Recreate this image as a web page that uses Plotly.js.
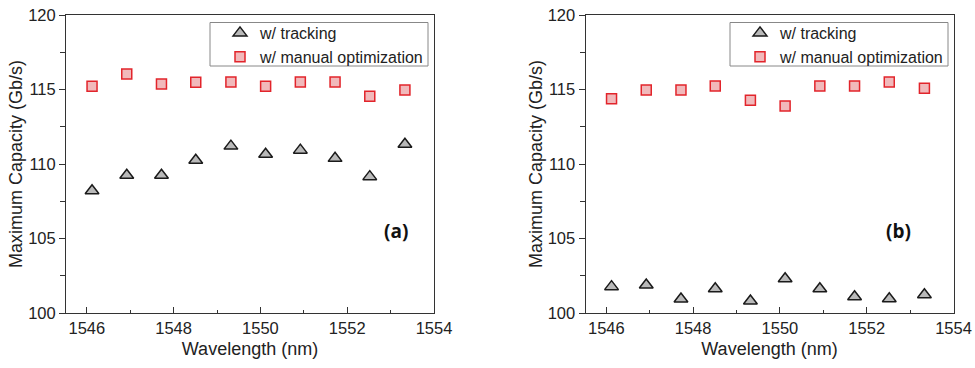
<!DOCTYPE html>
<html>
<head>
<meta charset="utf-8">
<script src="https://cdn.plot.ly/plotly-3.0.1.min.js"></script>
<style>html,body{margin:0;padding:0;background:#fff;}#chart{width:975px;height:368px;}</style>
</head>
<body>
<div id="chart"></div>
<script>
const wavelength = [1546.12, 1546.92, 1547.72, 1548.51, 1549.32, 1550.12, 1550.92, 1551.72, 1552.52, 1553.33];
const trackingA = [108.2, 109.25, 109.25, 110.25, 111.2, 110.65, 110.93, 110.38, 109.15, 111.33];
const manualA   = [115.21, 116.04, 115.37, 115.48, 115.5, 115.21, 115.5, 115.5, 114.54, 114.97];
const trackingB = [101.77, 101.88, 100.94, 101.63, 100.81, 102.3, 101.63, 101.09, 100.96, 101.23];
const manualB   = [114.38, 114.97, 114.97, 115.23, 114.28, 113.89, 115.23, 115.23, 115.5, 115.08];
const seriesNames = ['w/ tracking', 'w/ manual optimization'];
const panelLabels = ['(a)', '(b)'];
const xTitle = 'Wavelength (nm)';
const yTitle = 'Maximum Capacity (Gb/s)';

const triMarker = {symbol: 'triangle-up', size: 12, color: '#b9b9b9', line: {color: '#1a1a1a', width: 1.5}};
const sqMarker = {symbol: 'square', size: 10, color: '#f1b9bb', line: {color: '#e2242b', width: 1.5}};

const traces = [
  {x: wavelength, y: trackingA, type: 'scatter', mode: 'markers', name: seriesNames[0], marker: triMarker, xaxis: 'x', yaxis: 'y', legend: 'legend'},
  {x: wavelength, y: manualA, type: 'scatter', mode: 'markers', name: seriesNames[1], marker: sqMarker, xaxis: 'x', yaxis: 'y', legend: 'legend'},
  {x: wavelength, y: trackingB, type: 'scatter', mode: 'markers', name: seriesNames[0], marker: triMarker, xaxis: 'x2', yaxis: 'y2', legend: 'legend2'},
  {x: wavelength, y: manualB, type: 'scatter', mode: 'markers', name: seriesNames[1], marker: sqMarker, xaxis: 'x2', yaxis: 'y2', legend: 'legend2'}
];

const font = 'Liberation Sans';
function xax(domain, anchor) {
  return {
    domain: domain, anchor: anchor, range: [1545.52, 1554], autorange: false,
    tickmode: 'linear', tick0: 1546, dtick: 2, ticks: 'inside', ticklen: 6, tickwidth: 1, tickcolor: '#333',
    minor: {dtick: 1, ticks: 'inside', ticklen: 3, tickwidth: 1, tickcolor: '#333', showgrid: false},
    showline: true, linecolor: '#333', linewidth: 1, mirror: true, showgrid: false, zeroline: false,
    tickfont: {family: font, size: 16.5, color: '#222'},
    title: {text: xTitle, font: {family: font, size: 18, color: '#222'}, standoff: 6},
    automargin: false
  };
}
function yax(domain, anchor) {
  return {
    domain: domain, anchor: anchor, range: [100, 120], autorange: false,
    tickmode: 'linear', tick0: 100, dtick: 5, ticks: 'outside', ticklen: 6, tickwidth: 1, tickcolor: '#333',
    minor: {dtick: 2.5, ticks: 'outside', ticklen: 5, tickwidth: 1, tickcolor: '#333', showgrid: false},
    showline: true, linecolor: '#333', linewidth: 1, mirror: true, showgrid: false, zeroline: false,
    tickfont: {family: font, size: 16.5, color: '#222'},
    title: {text: yTitle, font: {family: font, size: 18, color: '#222'}, standoff: 0},
    automargin: false
  };
}
const ydom = [1 - 313/368, 1 - 15/368];
const legendBase = {
  yanchor: 'top', y: 1 - 16/368, xanchor: 'right',
  bgcolor: 'rgba(255,255,255,0)', borderwidth: 0,
  font: {family: font, size: 16, color: '#222'}, tracegroupgap: 0, itemsizing: 'trace'
};
function legendBox(x0, x1) {
  return {type: 'rect', xref: 'paper', yref: 'paper', x0: x0/975, x1: x1/975, y0: 1 - 66/368, y1: 1 - 22.5/368,
          line: {color: '#888', width: 1}, fillcolor: 'rgba(0,0,0,0)', layer: 'above'};
}
const layout = {
  width: 975, height: 368,
  margin: {l: 0, r: 0, t: 0, b: 0},
  paper_bgcolor: '#fff', plot_bgcolor: '#fff',
  showlegend: true,
  xaxis: xax([66/975, 434/975], 'y'),
  yaxis: yax(ydom, 'x'),
  xaxis2: xax([585.5/975, 953.5/975], 'y2'),
  yaxis2: yax(ydom, 'x2'),
  legend: Object.assign({}, legendBase, {x: 429/975}),
  legend2: Object.assign({}, legendBase, {x: 949/975}),
  shapes: [legendBox(210, 428), legendBox(730, 948)],
  annotations: [
    {text: '<b>' + panelLabels[0] + '</b>', xref: 'paper', yref: 'paper', x: 396/975, y: 1 - 231/368, showarrow: false, font: {family: 'Open Sans', size: 19, color: '#111'}},
    {text: '<b>' + panelLabels[1] + '</b>', xref: 'paper', yref: 'paper', x: 913/975, y: 1 - 231/368, showarrow: false, font: {family: 'Open Sans', size: 19, color: '#111'}}
  ]
};
Plotly.newPlot('chart', traces, layout, {displayModeBar: false, staticPlot: true});
</script>
</body>
</html>
